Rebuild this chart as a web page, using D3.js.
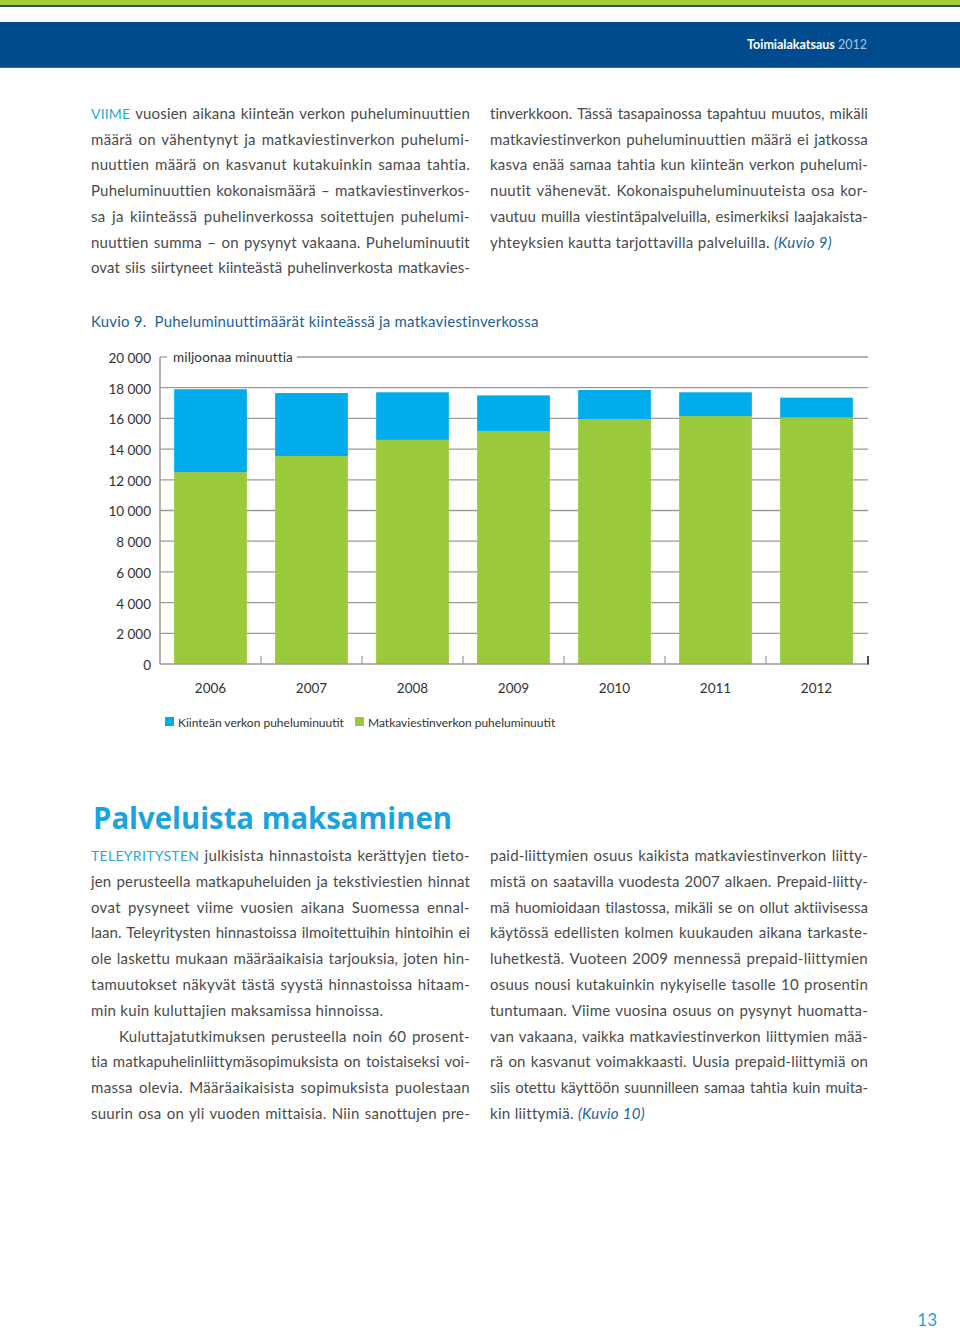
<!DOCTYPE html>
<html>
<head>
<meta charset="utf-8">
<script src="https://cdn.jsdelivr.net/npm/d3@7/dist/d3.min.js"></script>
<style>
  html, body { margin: 0; padding: 0; background: #fff; }
  svg { display: block; }
</style>
</head>
<body>
<svg id="page" width="960" height="1332"></svg>
<script>
// ---------------- DATA ----------------
const years = ["2006", "2007", "2008", "2009", "2010", "2011", "2012"];
const fixedMinutes  = [5400, 4100, 3100, 2350, 1900, 1550, 1300];   // Kiinteän verkon puheluminuutit
const mobileMinutes = [12500, 13550, 14600, 15150, 15950, 16150, 16050]; // Matkaviestinverkon puheluminuutit
const yTicks = [0, 2000, 4000, 6000, 8000, 10000, 12000, 14000, 16000, 18000, 20000];
const yTickLabels = ["0", "2 000", "4 000", "6 000", "8 000", "10 000", "12 000", "14 000", "16 000", "18 000", "20 000"];
const seriesNames = ["Kiinteän verkon puheluminuutit", "Matkaviestinverkon puheluminuutit"];
const unitLabel = "miljoonaa minuuttia";
const chartTitle = "Kuvio 9.  Puheluminuuttimäärät kiinteässä ja matkaviestinverkossa";

// text lines: [segments], justify flag, indent
const upperLeft = [
  [[["VIIME", "c"], [" vuosien aikana kiinteän verkon puheluminuuttien"]], true],
  [[["määrä on vähentynyt ja matkaviestinverkon puhelumi-"]], true],
  [[["nuuttien määrä on kasvanut kutakuinkin samaa tahtia."]], true],
  [[["Puheluminuuttien kokonaismäärä – matkaviestinverkos-"]], true],
  [[["sa ja kiinteässä puhelinverkossa soitettujen puhelumi-"]], true],
  [[["nuuttien summa – on pysynyt vakaana. Puheluminuutit"]], true],
  [[["ovat siis siirtyneet kiinteästä puhelinverkosta matkavies-"]], true]
];
const upperRight = [
  [[["tinverkkoon. Tässä tasapainossa tapahtuu muutos, mikäli"]], true],
  [[["matkaviestinverkon puheluminuuttien määrä ei jatkossa"]], true],
  [[["kasva enää samaa tahtia kun kiinteän verkon puhelumi-"]], true],
  [[["nuutit vähenevät. Kokonaispuheluminuuteista osa kor-"]], true],
  [[["vautuu muilla viestintäpalveluilla, esimerkiksi laajakaista-"]], true],
  [[["yhteyksien kautta tarjottavilla palveluilla. "], ["(Kuvio 9)", "k"]], false]
];
const lowerLeft = [
  [[["TELEYRITYSTEN", "c"], [" julkisista hinnastoista kerättyjen tieto-"]], true],
  [[["jen perusteella matkapuheluiden ja tekstiviestien hinnat"]], true],
  [[["ovat pysyneet viime vuosien aikana Suomessa ennal-"]], true],
  [[["laan. Teleyritysten hinnastoissa ilmoitettuihin hintoihin ei"]], true],
  [[["ole laskettu mukaan määräaikaisia tarjouksia, joten hin-"]], true],
  [[["tamuutokset näkyvät tästä syystä hinnastoissa hitaam-"]], true],
  [[["min kuin kuluttajien maksamissa hinnoissa."]], false],
  [[["Kuluttajatutkimuksen perusteella noin 60 prosent-"]], true, 28],
  [[["tia matkapuhelinliittymäsopimuksista on toistaiseksi voi-"]], true],
  [[["massa olevia. Määräaikaisista sopimuksista puolestaan"]], true],
  [[["suurin osa on yli vuoden mittaisia. Niin sanottujen pre-"]], true]
];
const lowerRight = [
  [[["paid-liittymien osuus kaikista matkaviestinverkon liitty-"]], true],
  [[["mistä on saatavilla vuodesta 2007 alkaen. Prepaid-liitty-"]], true],
  [[["mä huomioidaan tilastossa, mikäli se on ollut aktiivisessa"]], true],
  [[["käytössä edellisten kolmen kuukauden aikana tarkaste-"]], true],
  [[["luhetkestä. Vuoteen 2009 mennessä prepaid-liittymien"]], true],
  [[["osuus nousi kutakuinkin nykyiselle tasolle 10 prosentin"]], true],
  [[["tuntumaan. Viime vuosina osuus on pysynyt huomatta-"]], true],
  [[["van vakaana, vaikka matkaviestinverkon liittymien mää-"]], true],
  [[["rä on kasvanut voimakkaasti. Uusia prepaid-liittymiä on"]], true],
  [[["siis otettu käyttöön suunnilleen samaa tahtia kuin muita-"]], true],
  [[["kin liittymiä. "], ["(Kuvio 10)", "k"]], false]
];

// ---------------- STYLE ----------------
const C = {
  green: "#9ac93b",
  blue: "#00acec",
  header: "#004b8d",
  text: "#4a4a4a",
  cyan: "#2aa8dc",
  kuvio: "#215f9e",
  grid: "#9a9a9a",
  axisText: "#333333"
};
const bodyFont = "Lato, 'Open Sans', sans-serif";
const baseLS = 0.3;

const svg = d3.select("#page");

// ---------------- HEADER ----------------
svg.append("rect").attr("x", 0).attr("y", 0).attr("width", 960).attr("height", 5).attr("fill", "#a6cd3a");
svg.append("rect").attr("x", 0).attr("y", 5).attr("width", 960).attr("height", 2).attr("fill", "#2a5560");
svg.append("rect").attr("x", 0).attr("y", 22).attr("width", 960).attr("height", 46).attr("fill", C.header);
svg.append("rect").attr("x", 0).attr("y", 67).attr("width", 960).attr("height", 1).attr("fill", "#3a6f9a");
const ht = svg.append("text").attr("x", 867).attr("y", 49).attr("text-anchor", "end")
  .attr("font-family", bodyFont).attr("font-size", 12.5).attr("fill", "#fff");
ht.append("tspan").attr("font-weight", "bold").text("Toimialakatsaus");
ht.append("tspan").attr("fill", "#a8c3df").text(" 2012");

// ---------------- BODY TEXT ----------------
function drawColumn(lines, x0, width, y0, step) {
  lines.forEach((ln, i) => {
    const [segs, justify, indent] = ln;
    const ind = indent || 0;
    const t = svg.append("text")
      .attr("x", x0 + ind).attr("y", y0 + i * step)
      .attr("font-family", bodyFont).attr("font-size", 15)
      .attr("letter-spacing", baseLS)
      .attr("fill", C.text)
      .attr("xml:space", "preserve")
      .style("white-space", "pre");
    segs.forEach(s => {
      const ts = t.append("tspan").text(s[0]);
      if (s[1] === "c") ts.attr("fill", C.cyan).attr("font-size", 14);
      if (s[1] === "k") ts.attr("fill", C.kuvio).attr("font-style", "italic");
    });
    if (justify) {
      const full = segs.map(s => s[0]).join("");
      const spaces = (full.match(/ /g) || []).length;
      const target = width - ind;
      let natural = t.node().getComputedTextLength();
      const minGap = 1.2;
      if (spaces > 0 && (target - natural) / spaces < minGap) {
        const n = full.length;
        const ls = baseLS - (natural - target + minGap * spaces) / n;
        t.attr("letter-spacing", ls.toFixed(3));
        natural = t.node().getComputedTextLength();
      }
      if (spaces > 0) t.attr("word-spacing", ((target - natural) / spaces).toFixed(3));
    }
  });
}
drawColumn(upperLeft, 91, 379, 119, 25.7);
drawColumn(upperRight, 490, 378, 119, 25.7);
drawColumn(lowerLeft, 91, 379, 861, 25.8);
drawColumn(lowerRight, 490, 378, 861, 25.8);

// chart title
svg.append("text").attr("x", 91).attr("y", 327)
  .attr("font-family", bodyFont).attr("font-size", 15).attr("fill", C.kuvio)
  .attr("letter-spacing", 0.2)
  .attr("xml:space", "preserve").style("white-space", "pre")
  .text(chartTitle);

// section heading
svg.append("text").attr("x", 93).attr("y", 829)
  .attr("font-family", "'Open Sans', Lato, sans-serif").attr("font-size", 31).attr("font-weight", "bold")
  .attr("fill", "#1ba3dd")
  .attr("textLength", 359).attr("lengthAdjust", "spacingAndGlyphs")
  .text("Palveluista maksaminen");

// page number
svg.append("text").attr("x", 937).attr("y", 1326).attr("text-anchor", "end")
  .attr("font-family", bodyFont).attr("font-size", 17).attr("fill", "#1ba3dd")
  .text("13");

// ---------------- CHART ----------------
const x0 = 160, x1 = 867, yBase = 664, yTop = 357;
const x = d3.scaleBand().domain(years).range([x0, x1]).paddingInner(0.28).paddingOuter(0.14);
const y = d3.scaleLinear().domain([0, 20000]).range([yBase, yTop]);

const chart = svg.append("g");

// gridlines (excluding 0 and top)
chart.append("g").selectAll("line").data(yTicks.filter(v => v > 0 && v < 20000)).join("line")
  .attr("x1", x0).attr("x2", x1 + 1)
  .attr("y1", d => y(d)).attr("y2", d => y(d))
  .attr("stroke", C.grid).attr("stroke-width", 1.3);

// top frame line with the unit label gap
const unitText = chart.append("text").attr("x", 173).attr("y", y(20000) + 5)
  .attr("font-family", bodyFont).attr("font-size", 13.5).attr("fill", C.axisText)
  .attr("letter-spacing", 0.15)
  .text(unitLabel);
const unitEnd = 173 + unitText.node().getComputedTextLength();
chart.append("line").attr("x1", x0).attr("x2", x0 + 7).attr("y1", y(20000)).attr("y2", y(20000))
  .attr("stroke", C.grid).attr("stroke-width", 1.3);
chart.append("line").attr("x1", unitEnd + 4).attr("x2", x1 + 1).attr("y1", y(20000)).attr("y2", y(20000))
  .attr("stroke", C.grid).attr("stroke-width", 1.3);

// y axis line
chart.append("line").attr("x1", x0).attr("x2", x0).attr("y1", y(20000)).attr("y2", yBase)
  .attr("stroke", C.grid).attr("stroke-width", 1.5);

// y labels via axis
const yAxis = d3.axisLeft(y).tickValues(yTicks)
  .tickFormat((d, i) => yTickLabels[i]).tickSize(0).tickPadding(9);
const ya = chart.append("g").attr("transform", `translate(${x0},0)`).call(yAxis);
ya.select(".domain").remove();
ya.selectAll("text").attr("font-family", bodyFont).attr("font-size", 13.5).attr("fill", C.axisText)
  .attr("dy", "0.4em");

// stacked bars
const stackData = years.map((yr, i) => ({ year: yr, fixed: fixedMinutes[i], mobile: mobileMinutes[i] }));
const stack = d3.stack().keys(["mobile", "fixed"])(stackData);
const colors = { mobile: C.green, fixed: C.blue };
chart.append("g").selectAll("g").data(stack).join("g")
  .attr("fill", d => colors[d.key])
  .selectAll("rect").data(d => d).join("rect")
  .attr("x", d => x(d.data.year))
  .attr("width", x.bandwidth())
  .attr("y", d => y(d[1]))
  .attr("height", d => y(d[0]) - y(d[1]));

// x axis baseline
chart.append("line").attr("x1", x0).attr("x2", x1 + 1).attr("y1", yBase).attr("y2", yBase)
  .attr("stroke", C.grid).attr("stroke-width", 1.5);
// small ticks between bands
chart.append("g").selectAll("line").data(years.slice(1)).join("line")
  .attr("x1", d => x(d) - (x.step() - x.bandwidth()) / 2)
  .attr("x2", d => x(d) - (x.step() - x.bandwidth()) / 2)
  .attr("y1", yBase).attr("y2", yBase - 8)
  .attr("stroke", C.grid).attr("stroke-width", 1.2);
chart.append("line").attr("x1", x1 + 1).attr("x2", x1 + 1).attr("y1", yBase + 0.5).attr("y2", yBase - 8)
  .attr("stroke", "#222").attr("stroke-width", 1.6);

// x labels via axis
const xAxis = d3.axisBottom(x).tickSize(0).tickPadding(0);
const xa = chart.append("g").attr("transform", `translate(0,${yBase})`).call(xAxis);
xa.select(".domain").remove();
xa.selectAll("text").attr("font-family", bodyFont).attr("font-size", 13.5).attr("fill", C.axisText)
  .attr("y", 29).attr("dy", 0);

// legend
const legendX = [165, 355];
const lg = chart.append("g").selectAll("g").data(seriesNames).join("g")
  .attr("transform", (d, i) => `translate(${legendX[i]},717)`);
lg.append("rect").attr("width", 9).attr("height", 9)
  .attr("fill", (d, i) => i === 0 ? C.blue : C.green);
lg.append("text").attr("x", 13).attr("y", 9.5)
  .attr("font-family", bodyFont).attr("font-size", 12).attr("fill", C.axisText)
  .text(d => d);
</script>
</body>
</html>
